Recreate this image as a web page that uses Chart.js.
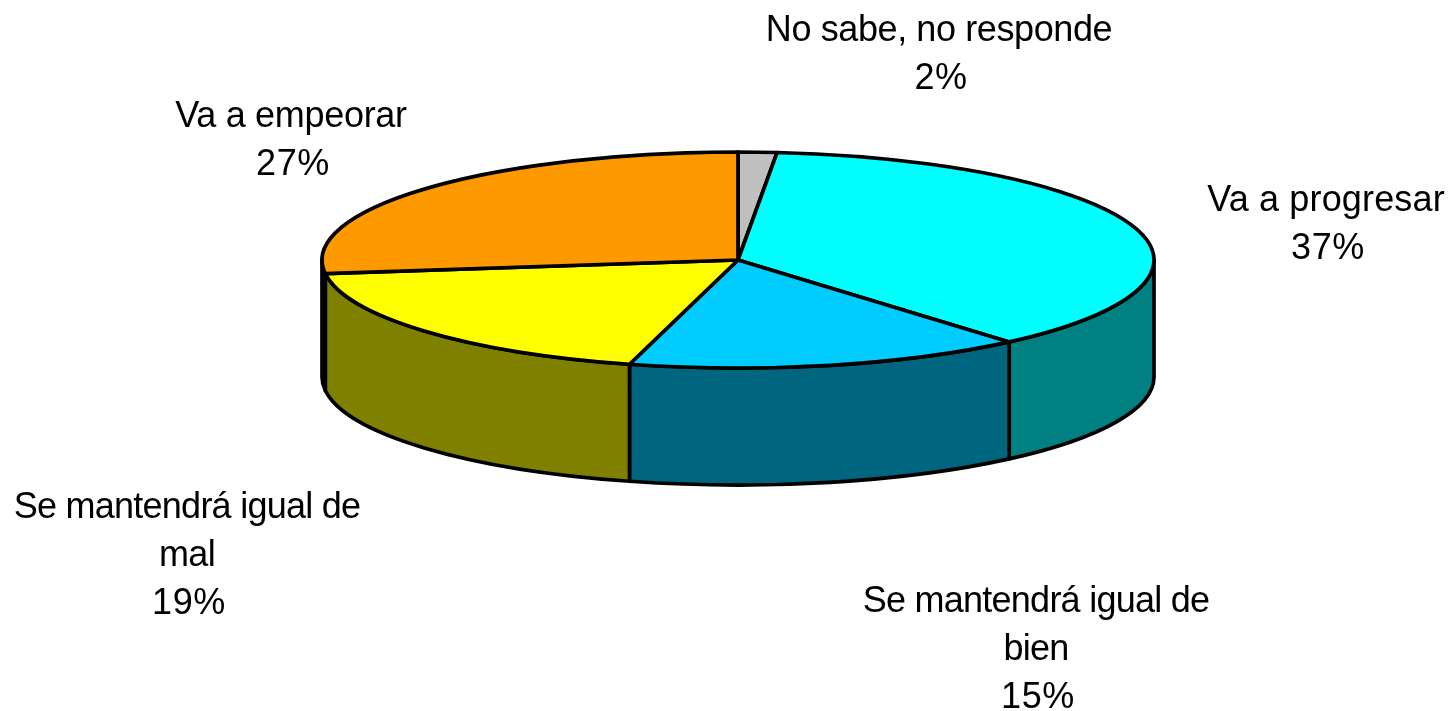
<!DOCTYPE html>
<html><head><meta charset="utf-8">
<style>html,body{margin:0;padding:0;background:#fff}#w{width:1452px;height:711px}</style>
<script src="https://cdn.jsdelivr.net/npm/chart.js@4"></script>
</head><body><div id="w"><canvas id="c"></canvas></div>
<script>
const categories = ['No sabe, no responde','Va a progresar','Se mantendrá igual de bien','Se mantendrá igual de mal','Va a empeorar'];
const values = [1.5, 37.2, 15.5, 18.8, 27];
const percentLabels = ['2%','37%','15%','19%','27%'];
const topColors = ['#C0C0C0','#00FFFF','#00CCFF','#FFFF00','#FF9900'];
const wallColors = ['#606060','#008080','#006680','#808000','#804C00'];
const labelLines = [['No sabe, no responde'],['Va a progresar'],['Se mantendrá igual de','bien'],['Se mantendrá igual de','mal'],['Va a empeorar']];

const RX = 416, RY = 108, DEPTH = 117, LW = 3.7;
const labelAnchors = [[939,31],[1326,201],[1036,602],[187,508],[291,117]];
const labelSpacing = [-0.4,0.15,-0.75,-0.75,-0.3];
const LINE = 48;

const pie3d = {
  id:'pie3d',
  beforeDatasetDraw(chart,args){
    const ctx = chart.ctx, arcs = chart.getDatasetMeta(args.index).data;
    const cx = arcs[0].x, cy = arcs[0].y;
    ctx.save();
    ctx.lineWidth = LW; ctx.strokeStyle = '#000'; ctx.lineJoin='round';
    // side walls: the part of each slice on the near half of the ellipse
    arcs.forEach((a,i)=>{
      const s = Math.max(a.startAngle,0), e = Math.min(a.endAngle,Math.PI);
      if(e<=s) return;
      ctx.beginPath();
      ctx.ellipse(cx,cy,RX,RY,0,s,e);
      ctx.lineTo(cx+RX*Math.cos(e),cy+DEPTH+RY*Math.sin(e));
      ctx.ellipse(cx,cy+DEPTH,RX,RY,0,e,s,true);
      ctx.closePath();
      ctx.fillStyle = wallColors[i]; ctx.fill(); ctx.stroke();
    });
    // top face
    arcs.forEach((a,i)=>{
      ctx.beginPath();
      ctx.moveTo(cx,cy);
      ctx.ellipse(cx,cy,RX,RY,0,a.startAngle,a.endAngle);
      ctx.closePath();
      ctx.fillStyle = topColors[i]; ctx.fill(); ctx.stroke();
    });
    ctx.restore();
    return false;
  },
  afterDatasetsDraw(chart){
    const ctx = chart.ctx;
    ctx.save();
    ctx.font = '36px "Liberation Sans", Arial, sans-serif';
    ctx.fillStyle = '#000'; ctx.textAlign='center'; ctx.textBaseline='middle';
    labelLines.forEach((lines,i)=>{
      const [x,y] = labelAnchors[i];
      ctx.letterSpacing = labelSpacing[i]+'px';
      lines.forEach((t,k)=>ctx.fillText(t,x,y+k*LINE));
      ctx.letterSpacing = '0.6px';
      ctx.fillText(percentLabels[i],x+2,y+lines.length*LINE);
    });
    ctx.restore();
  }
};

new Chart(document.getElementById('c'),{
  type:'pie',
  data:{labels:categories,datasets:[{data:values,backgroundColor:topColors,borderColor:'#000'}]},
  options:{
    responsive:true,maintainAspectRatio:false,animation:false,
    layout:{padding:{left:24,right:0,top:0,bottom:191}},
    plugins:{legend:{display:false},tooltip:{enabled:false}}
  },
  plugins:[pie3d]
});
</script></body></html>
